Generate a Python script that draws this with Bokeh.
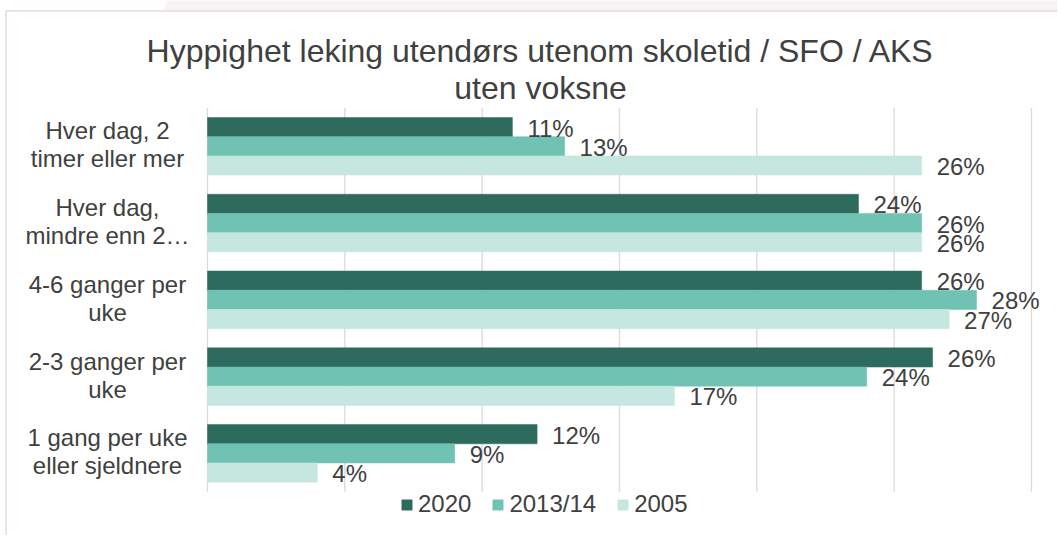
from bokeh.plotting import figure
from bokeh.models import (ColumnDataSource, Range1d, Label, LabelSet, Legend, LegendItem)
from bokeh.core.properties import value
from bokeh.embed import file_html
from bokeh.resources import INLINE

# ---------------- data ----------------
title_lines = ["Hyppighet leking utendørs utenom skoletid / SFO / AKS", "uten voksne"]
categories = ["Hver dag, 2\ntimer eller mer",
              "Hver dag,\nmindre enn 2\u2026",
              "4-6 ganger per\nuke",
              "2-3 ganger per\nuke",
              "1 gang per uke\neller sjeldnere"]
series_names = ["2020", "2013/14", "2005"]
values_2020 = [11.1, 23.7, 26.0, 26.4, 12.0]
values_2013 = [13.0, 26.0, 28.0, 24.0, 9.0]
values_2005 = [26.0, 26.0, 27.0, 17.0, 4.0]
series_values = [values_2020, values_2013, values_2005]
colors = ["#2E6B5F", "#70C3B3", "#C6E7E0"]
x_ticks = [0, 5, 10, 15, 20, 25, 30]

FONT = "Liberation Sans"
TXT = "#404040"
GRID = "#E2D6DA"
FRAME = "#E8D7DD"

n = len(categories)
W, H = 1057, 535

# pixel layout of the plotting area inside the canvas
PX_LEFT, PX_RIGHT = 207.0, 1031.0      # value 0 and value 30
PY_TOP, PY_BOT = 107.4, 491.3          # category band top / bottom
xmax = x_ticks[-1]
ppx = (PX_RIGHT - PX_LEFT) / xmax
ppy = (PY_BOT - PY_TOP) / n
x_range = Range1d(-PX_LEFT / ppx, (W - PX_LEFT) / ppx)
y_range = Range1d(-0.5 - (H - PY_BOT) / ppy, n - 0.5 + PY_TOP / ppy)


def px2x(px):
    return (px - PX_LEFT) / ppx


def py2y(py):
    return -0.5 + (PY_BOT - py) / ppy


p = figure(width=W, height=H, output_backend="svg", toolbar_location=None,
           x_range=x_range, y_range=y_range, x_axis_type=None, y_axis_type=None,
           min_border=0)
p.min_border_left = p.min_border_right = p.min_border_top = p.min_border_bottom = 0
p.outline_line_color = None
p.background_fill_color = "white"
p.border_fill_color = "white"
p.title.visible = False

# chart-area decoration (grey band + pink frame edge)
p.patch(x=[px2x(163), px2x(168), px2x(W + 2), px2x(W + 2)],
        y=[py2y(10), py2y(-2), py2y(-2), py2y(10)],
        fill_color="#F4F4F4", line_color=None)
p.line(x=[px2x(5.5), px2x(5.5), px2x(W + 2)], y=[py2y(H + 2), py2y(10.5), py2y(10.5)],
       line_color=FRAME, line_width=1.5)

# vertical grid lines
p.segment(x0=x_ticks, y0=[-0.5] * len(x_ticks), x1=x_ticks, y1=[n - 0.5] * len(x_ticks),
          line_color=GRID, line_width=1.3)

bar_h = 0.25
offsets = [bar_h, 0.0, -bar_h]
renderers = []
for name, vals, col, off in zip(series_names, series_values, colors, offsets):
    ys = [n - 1 - i + off for i in range(n)]
    src = ColumnDataSource(dict(y=ys, right=vals,
                                lab=[f"{round(v)}%" for v in vals]))
    r = p.hbar(y="y", right="right", left=0, height=bar_h, source=src,
               fill_color=col, line_color=col, line_width=0.5)
    renderers.append((name, r))
    ls = LabelSet(x="right", y="y", text="lab", source=src, x_offset=15, y_offset=-1,
                  text_font=value(FONT), text_font_size="24px", text_color=TXT,
                  text_baseline="middle", text_align="left")
    p.add_layout(ls)

# category labels (left side), each line centred
split = [c.split("\n") for c in categories]
for li, yoff in enumerate([7, -21]):
    src = ColumnDataSource(dict(y=[n - 1 - i for i in range(n)],
                                text=[s[li] if li < len(s) else "" for s in split]))
    p.add_layout(LabelSet(x=107, x_units="screen", y="y", text="text", source=src,
                          y_offset=yoff, text_font=value(FONT), text_font_size="24px",
                          text_color=TXT, text_align="center",
                          text_baseline="alphabetic"))

# title
for k, line in enumerate(title_lines):
    p.add_layout(Label(x=540, x_units="screen", y=H - 50 - 37 * k, y_units="screen",
                       text=line, text_font=FONT, text_font_size="32px",
                       text_color=TXT, text_align="center",
                       text_baseline="alphabetic"))

legend = Legend(items=[LegendItem(label=nm, renderers=[r]) for nm, r in renderers],
                orientation="horizontal", location=(400, H - 518),
                label_text_font=FONT, label_text_font_size="24px",
                label_text_color=TXT, glyph_width=13, glyph_height=13,
                label_standoff=5, spacing=20, padding=0, margin=0,
                border_line_color=None, background_fill_alpha=0)
p.add_layout(legend, "center")

open("out.html", "w").write(file_html(p, INLINE))
